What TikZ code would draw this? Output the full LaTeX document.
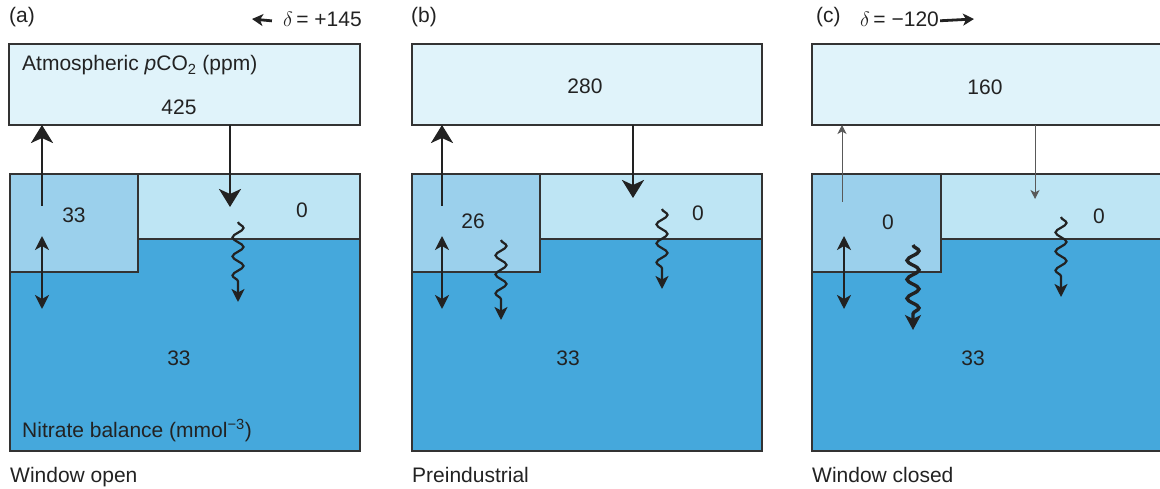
\documentclass[tikz,border=0pt]{standalone}
\usepackage{fontspec}
\setmainfont{Liberation Sans}
\usetikzlibrary{arrows.meta,decorations.pathmorphing}
\definecolor{atm}{HTML}{E0F3FA}
\definecolor{surf}{HTML}{BEE5F4}
\definecolor{blk}{HTML}{9BD0EC}
\definecolor{deep}{HTML}{45A8DC}
\definecolor{edge}{HTML}{333333}
\definecolor{ink}{HTML}{222222}
\tikzset{
  panelbox/.style={draw=edge, line width=1.4pt, anchor=north west, inner sep=0pt, outer sep=0pt},
  lbl/.style={inner sep=0pt, text=ink},
  bigarrow/.style={draw=ink, line width=2.8pt, -{Stealth[length=18pt,width=22pt,inset=5pt]}},
  thinarrow/.style={draw=ink!75!white, line width=1pt, -{Stealth[length=9pt,width=9pt,inset=2.5pt]}},
  dblarrow/.style={draw=ink, line width=2.4pt, {Stealth[length=14pt,width=14pt,inset=4pt]}-{Stealth[length=14pt,width=14pt,inset=4pt]}},
  wavy/.style={draw=ink, line width=2.2pt, decorate, decoration={snake, segment length=19pt, amplitude=5.5pt, post length=13pt}, -{Stealth[length=13pt,width=13pt,inset=3.5pt]}},
  wavythick/.style={draw=ink, line width=3.4pt, decorate, decoration={snake, segment length=19pt, amplitude=6pt, post length=13pt}, -{Stealth[length=15pt,width=16pt,inset=4pt]}},
  deltaarrow/.style={draw=ink, line width=2.8pt, -{Stealth[length=11pt,width=12pt,inset=3pt]}}
}
\begin{document}
\begin{tikzpicture}[x=1pt,y=-1pt,font=\fontsize{21}{25}\selectfont]
\useasboundingbox (0,0) rectangle (1160,489);

% ---------------- Panel (a) ----------------
\node[panelbox, fill=atm, minimum width=351pt, minimum height=81pt] (atmA) at (9,44) {};
\node[panelbox, fill=deep, minimum width=350pt, minimum height=277pt] (oceanA) at (10,174) {};
\node[panelbox, fill=surf, minimum width=350pt, minimum height=65pt] (surfA) at (10,174) {};
\node[panelbox, fill=blk, minimum width=128pt, minimum height=98pt] (blockA) at (10,174) {};

\node[lbl, anchor=base west] (titA) at (9,23) {(a)};
\node[lbl, anchor=base east] (delA) at (362,27) {$\delta$\,= +145};
\coordinate (delAend) at (252,19);
\draw[deltaarrow] ([xshift=-11pt,yshift=-1pt]delA.west) -- (delAend);

\node[lbl, anchor=base west] (atmlabA) at (22,71) {Atmospheric \textit{p}CO\textsubscript{2} (ppm)};
\node[lbl] (atmvalA) at (179,107) {425};
\node[lbl] (blkvalA) at (74,215) {33};
\node[lbl] (surfvalA) at (302,210) {0};
\node[lbl] (deepvalA) at (179,358) {33};
\node[lbl, anchor=base west] (nitA) at (22,437) {Nitrate balance (mmol\textsuperscript{−3})};
\node[lbl, anchor=base west] (capA) at (10,482) {Window open};

\coordinate (upA) at (42,206);
\draw[bigarrow] (upA) -- (upA |- atmA.south);
\coordinate (dnA) at (230,207);
\draw[bigarrow] (atmA.south -| dnA) -- (dnA);
\coordinate (d1A) at (42,236);
\coordinate (d2A) at (42,309);
\draw[dblarrow] (d1A) -- (d2A);
\coordinate (w1A) at (238,222);
\coordinate (w2A) at (238,302);
\draw[wavy] (w1A) -- (w2A);

% ---------------- Panel (b) ----------------
\node[panelbox, fill=atm, minimum width=350pt, minimum height=81pt] (atmB) at (412,44) {};
\node[panelbox, fill=deep, minimum width=350pt, minimum height=277pt] (oceanB) at (412,174) {};
\node[panelbox, fill=surf, minimum width=350pt, minimum height=65pt] (surfB) at (412,174) {};
\node[panelbox, fill=blk, minimum width=128pt, minimum height=98pt] (blockB) at (412,174) {};

\node[lbl, anchor=base west] (titB) at (411,23) {(b)};
\node[lbl] (atmvalB) at (585,86) {280};
\node[lbl] (blkvalB) at (473,221) {26};
\node[lbl] (surfvalB) at (698,213) {0};
\node[lbl] (deepvalB) at (568,358) {33};
\node[lbl, anchor=base west] (capB) at (412,482) {Preindustrial};

\coordinate (upB) at (442,206);
\draw[bigarrow] (upB) -- (upB |- atmB.south);
\coordinate (dnB) at (633,198);
\draw[bigarrow] (atmB.south -| dnB) -- (dnB);
\coordinate (d1B) at (442,236);
\coordinate (d2B) at (442,309);
\draw[dblarrow] (d1B) -- (d2B);
\coordinate (w1B) at (501,240);
\coordinate (w2B) at (501,320);
\draw[wavy] (w1B) -- (w2B);
\coordinate (w3B) at (662,209);
\coordinate (w4B) at (662,289);
\draw[wavy] (w3B) -- (w4B);

% ---------------- Panel (c) ----------------
\node[panelbox, fill=atm, minimum width=352pt, minimum height=81pt] (atmC) at (812,44) {};
\node[panelbox, fill=deep, minimum width=352pt, minimum height=277pt] (oceanC) at (812,174) {};
\node[panelbox, fill=surf, minimum width=352pt, minimum height=65pt] (surfC) at (812,174) {};
\node[panelbox, fill=blk, minimum width=129pt, minimum height=98pt] (blockC) at (812,174) {};

\node[lbl, anchor=base west] (titC) at (816,23) {(c)};
\node[lbl, anchor=base west] (delC) at (860,27) {$\delta$\,= −120};
\coordinate (delCend) at (974,19);
\draw[deltaarrow] ([xshift=1pt,yshift=-1pt]delC.east) -- (delCend);
\node[lbl] (atmvalC) at (985,87) {160};
\node[lbl] (blkvalC) at (888,222) {0};
\node[lbl] (surfvalC) at (1099,216) {0};
\node[lbl] (deepvalC) at (973,358) {33};
\node[lbl, anchor=base west] (capC) at (812,482) {Window closed};

\coordinate (upC) at (842,202);
\draw[thinarrow] (upC) -- (upC |- atmC.south);
\coordinate (dnC) at (1035,199);
\draw[thinarrow] (atmC.south -| dnC) -- (dnC);
\coordinate (d1C) at (844,236);
\coordinate (d2C) at (844,309);
\draw[dblarrow] (d1C) -- (d2C);
\coordinate (w1C) at (913,245);
\coordinate (w2C) at (913,330);
\draw[wavythick] (w1C) -- (w2C);
\coordinate (w3C) at (1061,217);
\coordinate (w4C) at (1061,297);
\draw[wavy] (w3C) -- (w4C);
\end{tikzpicture}
\end{document}
